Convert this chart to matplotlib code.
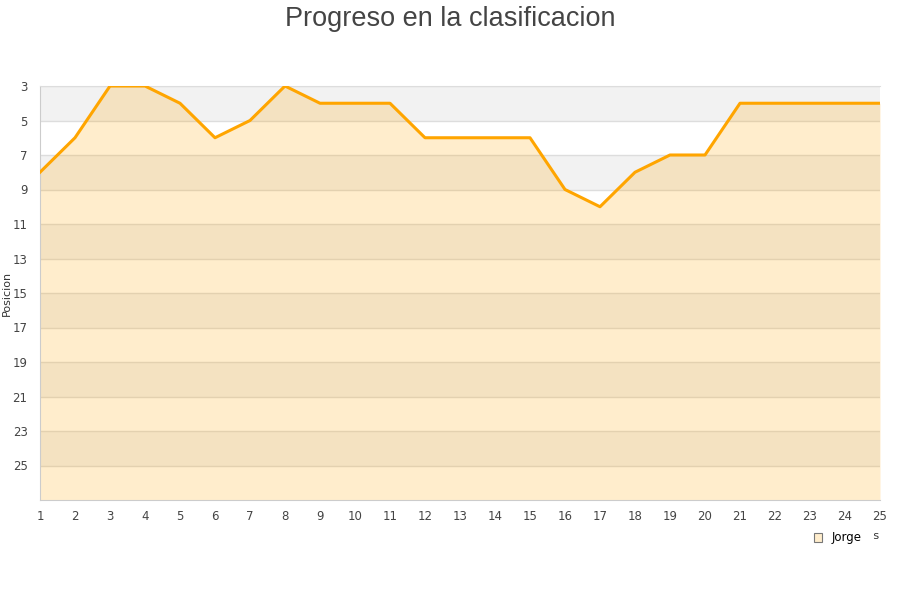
import matplotlib
matplotlib.use("Agg")
import matplotlib.pyplot as plt
from matplotlib.patches import Patch

# datos de la clasificacion
jornadas = list(range(1, 26))
posicion = [8, 6, 3, 3, 4, 6, 5, 3, 4, 4, 4, 6, 6, 6, 6, 9, 10, 8, 7, 7, 4, 4, 4, 4, 4]
yticks = list(range(3, 27, 2))

fig = plt.figure(figsize=(9, 6), dpi=100)
ax = fig.add_axes([40 / 900, 1 - 500 / 600, 840 / 900, 414 / 600])

# bandas alternas
for i, y0 in enumerate(range(3, 27, 2)):
    if i % 2 == 0:
        ax.axhspan(y0, y0 + 2, color="#f2f2f2", zorder=0, lw=0)
for y in yticks:
    ax.axhline(y, color="#dddddd", lw=1, zorder=1)

ax.fill_between(jornadas, posicion, 27, color="#ffa500", alpha=0.2, lw=0, zorder=2)
ax.plot(jornadas, posicion, color="#ffa500", lw=2.2, zorder=3)

ax.set_xlim(1, 25)
ax.set_ylim(27, 3)
ax.set_xticks(jornadas)
ax.set_yticks(yticks)
ax.tick_params(axis="both", length=0, labelsize=8.5, colors="#444444", pad=7)
ax.tick_params(axis="y", pad=9)
ax.spines["right"].set_visible(False)
for side in ["left", "bottom"]:
    ax.spines[side].set_color("#cccccc")
ax.spines["top"].set_color("#dddddd")

ax.set_ylabel("Posicion", fontsize=8, color="#333333")
ax.yaxis.set_label_coords(-28 / 840, 0.5)
ax.set_xlabel("Jornadas", fontsize=8, color="#333333")
ax.xaxis.set_label_coords(1.0, -31 / 414)
ax.xaxis.label.set_horizontalalignment("right")

fig.suptitle("Progreso en la clasificacion", fontsize=19.5, color="#444444",
             family="Liberation Sans", y=0.99)

handle = Patch(facecolor="#ffedcc", edgecolor="#777777", lw=0.8)
leg = ax.legend([handle], ["Jorge"], loc="center", bbox_to_anchor=(838 / 900, 1 - 538 / 600),
                bbox_transform=fig.transFigure, frameon=True, fontsize=8.5,
                handlelength=0.7, handleheight=0.7, handletextpad=0.8, borderpad=0.9)
leg.get_frame().set_facecolor("white")
leg.get_frame().set_edgecolor("white")
leg.get_frame().set_alpha(1)
leg.set_zorder(10)

fig.savefig("out.png", dpi=100)
